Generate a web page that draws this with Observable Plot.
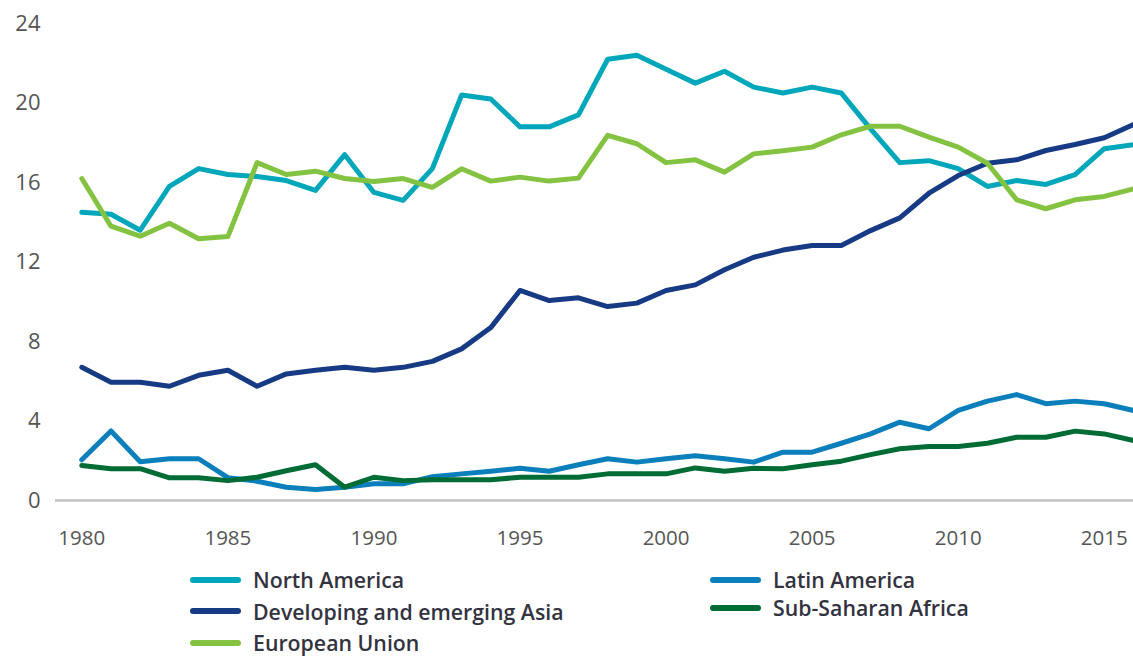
<!DOCTYPE html>
<html>
<head>
<meta charset="utf-8">
<script src="https://cdn.jsdelivr.net/npm/d3@7"></script>
<script src="https://cdn.jsdelivr.net/npm/@observablehq/plot@0.6"></script>
<style>
  html, body { margin: 0; padding: 0; background: #fff; }
  #wrap { position: relative; width: 1133px; height: 656px; font-family: "Open Sans", sans-serif; }
  #legend { position: absolute; left: 0; top: 0; width: 1133px; }
  .item { position: absolute; display: flex; align-items: center; height: 31px; font-size: 21.3px; font-weight: 600; color: #33333f; white-space: nowrap; }
  .sw { width: 51px; height: 6px; border-radius: 3px; margin-right: 12px; }
</style>
</head>
<body>
<div id="wrap"><div id="chart"></div><div id="legend"></div></div>
<script>
const years = d3.range(1980, 2017);

const northAmerica = [14.5,14.4,13.6,15.8,16.7,16.4,16.3,16.1,15.6,17.4,15.5,15.1,16.7,20.4,20.2,18.8,18.8,19.4,22.2,22.4,21.7,21.0,21.6,20.8,20.5,20.8,20.5,18.7,17.0,17.1,16.7,15.8,16.1,15.9,16.4,17.7,17.9];
const latinAmerica = [2.05,3.5,1.95,2.1,2.1,1.15,0.97,0.67,0.55,0.67,0.84,0.84,1.2,1.34,1.47,1.62,1.47,1.8,2.1,1.93,2.1,2.25,2.1,1.93,2.43,2.43,2.88,3.35,3.94,3.61,4.53,5.0,5.33,4.87,5.0,4.87,4.53];
const developingAsia = [6.7,5.95,5.95,5.75,6.3,6.55,5.75,6.37,6.55,6.7,6.55,6.7,7.0,7.63,8.7,10.57,10.06,10.2,9.76,9.93,10.57,10.85,11.61,12.24,12.6,12.83,12.83,13.58,14.22,15.46,16.35,16.97,17.14,17.61,17.91,18.25,18.92];
const subSaharan = [1.76,1.6,1.6,1.14,1.14,1.0,1.17,1.5,1.8,0.67,1.17,1.0,1.04,1.04,1.04,1.17,1.17,1.17,1.34,1.34,1.34,1.64,1.47,1.62,1.6,1.8,1.98,2.31,2.6,2.72,2.72,2.88,3.18,3.18,3.49,3.35,3.02];
const europeanUnion = [16.2,13.8,13.3,13.95,13.17,13.28,17.0,16.4,16.57,16.2,16.05,16.2,15.76,16.69,16.07,16.27,16.07,16.22,18.37,17.95,17.0,17.14,16.52,17.44,17.6,17.78,18.4,18.83,18.83,18.28,17.78,16.97,15.13,14.68,15.13,15.3,15.68];

const seriesNames = ["North America","Latin America","Developing and emerging Asia","Sub-Saharan Africa","European Union"];
const seriesValues = [northAmerica, latinAmerica, developingAsia, subSaharan, europeanUnion];
const seriesColors = ["#00a7ba","#0a7fbc","#173a84","#006c35","#83c341"];
const legendOrder = ["North America","Developing and emerging Asia","European Union","Latin America","Sub-Saharan Africa"];

const yTicks = [0,4,8,12,16,20,24];
const xTicks = [1980,1985,1990,1995,2000,2005,2010,2015];

const rows = [];
seriesNames.forEach((name, i) => {
  seriesValues[i].forEach((v, j) => rows.push({series: name, year: years[j], value: v}));
});

const chart = Plot.plot({
  width: 1133,
  height: 560,
  marginLeft: 55,
  marginRight: 0,
  marginTop: 23,
  marginBottom: 60,
  style: {fontFamily: "'Open Sans', sans-serif", background: "#fff", overflow: "visible"},
  x: {domain: [1979.1, 2016], ticks: xTicks, tickFormat: d => String(d), tickSize: 0, tickPadding: 30, label: null},
  y: {domain: [0, 24], ticks: yTicks, tickSize: 0, tickPadding: 15, label: null},
  color: {domain: seriesNames, range: seriesColors},
  marks: [
    Plot.ruleY([0], {stroke: "#c2c2c2", strokeWidth: 2.3}),
    Plot.axisY({ticks: yTicks, tickSize: 0, tickPadding: 15, fontSize: 22, fill: "#555", label: null}),
    Plot.axisX({ticks: xTicks, tickSize: 0, tickPadding: 30, fontSize: 20.5, fill: "#555", label: null, tickFormat: d => String(d)}),
    Plot.line(rows, {x: "year", y: "value", z: "series", stroke: "series", strokeWidth: 5, strokeLinejoin: "round"})
  ]
});
document.getElementById("chart").appendChild(chart);

const legend = document.getElementById("legend");
const colorOf = Object.fromEntries(seriesNames.map((n, i) => [n, seriesColors[i]]));
const legendPos = {
  "North America": [190, 0],
  "Developing and emerging Asia": [190, 1],
  "European Union": [190, 2],
  "Latin America": [710, 0],
  "Sub-Saharan Africa": [710, 0.9]
};
legendOrder.forEach(name => {
  const [left, row] = legendPos[name];
  const d = document.createElement("div");
  d.className = "item";
  d.style.left = left + "px";
  d.style.top = (564 + row * 31.5) + "px";
  d.innerHTML = `<span class="sw" style="background:${colorOf[name]}"></span><span>${name}</span>`;
  legend.appendChild(d);
});
</script>
</body>
</html>
